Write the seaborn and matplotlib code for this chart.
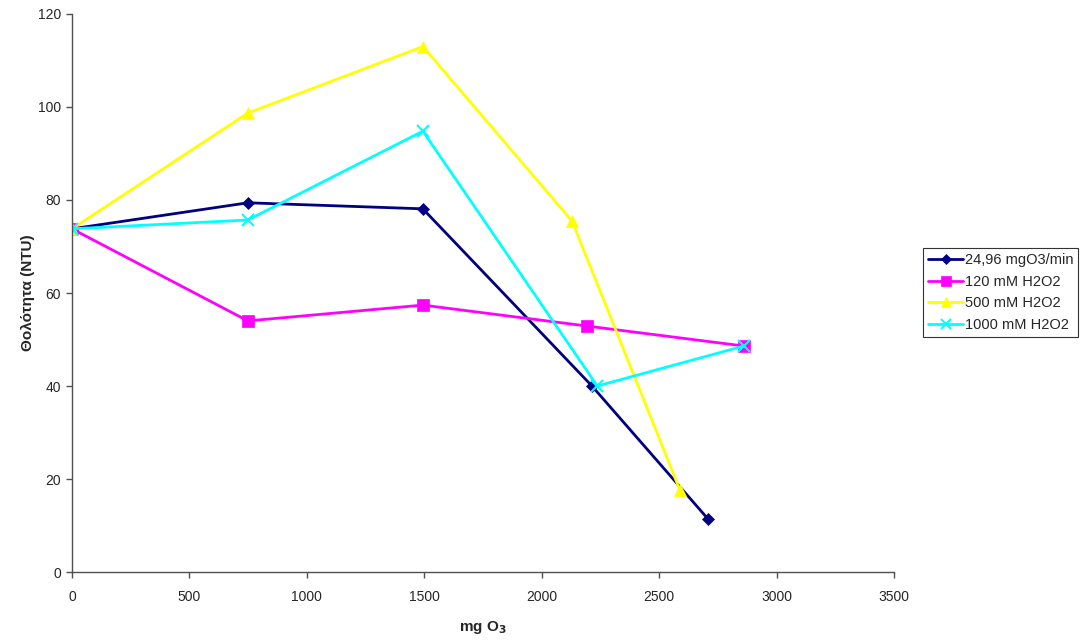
import matplotlib
matplotlib.use("Agg")
import matplotlib.pyplot as plt
import seaborn as sns
import pandas as pd

# Ozone dose (mg O3) and turbidity (NTU) for each treatment
x_o3 = [0, 749, 1494, 2214, 2710]
y_o3 = [73.8, 79.4, 78.1, 40.0, 11.3]

x_120 = [0, 749, 1494, 2192, 2861]
y_120 = [73.8, 54.0, 57.4, 52.9, 48.6]

x_500 = [0, 749, 1494, 2129, 2588]
y_500 = [73.8, 98.7, 113.0, 75.5, 17.7]

x_1000 = [0, 749, 1494, 2237, 2861]
y_1000 = [73.8, 75.7, 94.8, 40.0, 48.6]

labels = ["24,96 mgO3/min", "120 mM H2O2", "500 mM H2O2", "1000 mM H2O2"]
colors = ["#000080", "#FF00FF", "#FFFF00", "#00FFFF"]
markers = ["D", "s", "^", "x"]
msizes = [6, 8, 8, 8]

series = [(x_o3, y_o3), (x_120, y_120), (x_500, y_500), (x_1000, y_1000)]

sns.set_style("white")
plt.rcParams["font.family"] = ["Liberation Sans", "DejaVu Sans"]

fig = plt.figure(figsize=(10.84, 6.41), dpi=100)
ax = fig.add_axes([0.0664, 0.1076, 0.7583, 0.8706])

for (xs, ys), lab, col, mk, ms in zip(series, labels, colors, markers, msizes):
    df = pd.DataFrame({"x": xs, "y": ys})
    sns.lineplot(data=df, x="x", y="y", ax=ax, sort=False, color=col,
                 linewidth=2, marker=mk, markersize=ms,
                 markeredgecolor=col, markeredgewidth=1.5 if mk == "x" else 0.5,
                 label=lab)

ax.set_xlim(0, 3500)
ax.set_ylim(0, 120)
ax.set_xticks(range(0, 3501, 500))
ax.set_yticks(range(0, 121, 20))
ax.tick_params(axis="both", direction="out", length=4, width=1, color="#505050",
               labelsize=10, bottom=True, left=True)
ax.tick_params(axis="x", pad=9)
ax.tick_params(axis="y", pad=4)

for side in ["top", "right"]:
    ax.spines[side].set_visible(False)
for side in ["left", "bottom"]:
    ax.spines[side].set_color("#505050")
    ax.spines[side].set_linewidth(1)

ax.set_xlabel("mg O$_\\mathbf{3}$", fontsize=11, fontweight="bold", labelpad=11)
ax.set_ylabel("Θολότητα (NTU)", fontsize=11, fontweight="bold", labelpad=2)

leg = ax.legend(loc="upper left", bbox_to_anchor=(0.8515, 0.6131),
                bbox_transform=fig.transFigure, frameon=True, fancybox=False,
                edgecolor="black", fontsize=10.5, handlelength=2.4,
                handletextpad=0.1, borderpad=0.35, labelspacing=0.52,
                borderaxespad=0, markerscale=0.85)
leg.get_frame().set_linewidth(0.8)

fig.savefig("out.png", dpi=100, facecolor="white")
